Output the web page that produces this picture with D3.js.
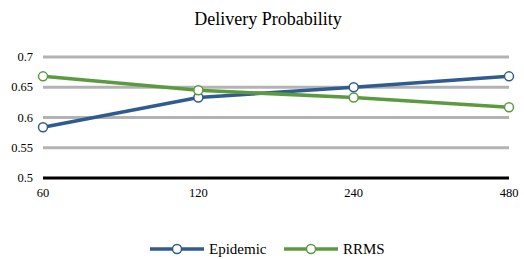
<!DOCTYPE html>
<html>
<head>
<meta charset="utf-8">
<script src="https://cdn.jsdelivr.net/npm/d3@7"></script>
<style>
  body { margin: 0; background: #fff; }
</style>
</head>
<body>
<div id="chart"></div>
<script>
const categories = ["60", "120", "240", "480"];
const epidemic = [0.584, 0.633, 0.650, 0.668];
const rrms = [0.668, 0.645, 0.633, 0.617];
const yTicks = [0.5, 0.55, 0.6, 0.65, 0.7];
const seriesNames = ["Epidemic", "RRMS"];
const colors = ["#2f5b91", "#5c9a40"];

const width = 524, height = 259;
const margin = { top: 57, bottom: 81, left: 43, right: 15 };
const innerWidth = width - margin.left - margin.right;
const innerHeight = height - margin.top - margin.bottom;
const font = "'Liberation Serif'";

const svg = d3.select("#chart").append("svg")
  .attr("width", width).attr("height", height);

const x = d3.scalePoint().domain(categories).range([0, innerWidth]);
const y = d3.scaleLinear().domain([0.5, 0.7]).range([innerHeight, 0]);

// title
svg.append("text")
  .attr("x", 268).attr("y", 25)
  .attr("text-anchor", "middle")
  .attr("font-family", font)
  .attr("font-size", 18)
  .text("Delivery Probability");

const g = svg.append("g").attr("transform", `translate(${margin.left},${margin.top})`);

// gridlines
g.selectAll("line.grid")
  .data(yTicks)
  .join("line")
  .attr("class", "grid")
  .attr("x1", 0).attr("x2", innerWidth)
  .attr("y1", d => y(d)).attr("y2", d => y(d))
  .attr("stroke", d => d === 0.5 ? "#000" : "#b3b3b3")
  .attr("stroke-width", 3);

// y axis labels
g.selectAll("text.ylab")
  .data(yTicks)
  .join("text")
  .attr("class", "ylab")
  .attr("x", -10).attr("y", d => y(d) + 4)
  .attr("text-anchor", "end")
  .attr("font-family", font)
  .attr("font-size", 12.5)
  .text(d => d);

// x axis labels
g.selectAll("text.xlab")
  .data(categories)
  .join("text")
  .attr("class", "xlab")
  .attr("x", d => x(d)).attr("y", innerHeight + 19)
  .attr("text-anchor", "middle")
  .attr("font-family", font)
  .attr("font-size", 12.5)
  .text(d => d);

const series = [epidemic, rrms];
const line = d3.line().x((d, i) => x(categories[i])).y(d => y(d));

series.forEach((vals, si) => {
  g.append("path")
    .datum(vals)
    .attr("fill", "none")
    .attr("stroke", colors[si])
    .attr("stroke-width", 3.5)
    .attr("d", line);
});
series.forEach((vals, si) => {
  g.selectAll("circle.pt" + si)
    .data(vals)
    .join("circle")
    .attr("class", "pt" + si)
    .attr("cx", (d, i) => x(categories[i]))
    .attr("cy", d => y(d))
    .attr("r", 4.5)
    .attr("fill", "#fff")
    .attr("stroke", colors[si])
    .attr("stroke-width", 1.5);
});

// legend
const legendY = 249;
const legendX = [150, 284];
seriesNames.forEach((name, i) => {
  const lg = svg.append("g").attr("transform", `translate(${legendX[i]},${legendY})`);
  lg.append("line").attr("x1", 0).attr("x2", 54).attr("y1", 0).attr("y2", 0)
    .attr("stroke", colors[i]).attr("stroke-width", 3.5);
  lg.append("circle").attr("cx", 27).attr("cy", 0).attr("r", 4.5)
    .attr("fill", "#fff").attr("stroke", colors[i]).attr("stroke-width", 1.5);
  lg.append("text").attr("x", 59).attr("y", 5)
    .attr("font-family", font)
    .attr("font-size", 15)
    .text(name);
});
</script>
</body>
</html>
